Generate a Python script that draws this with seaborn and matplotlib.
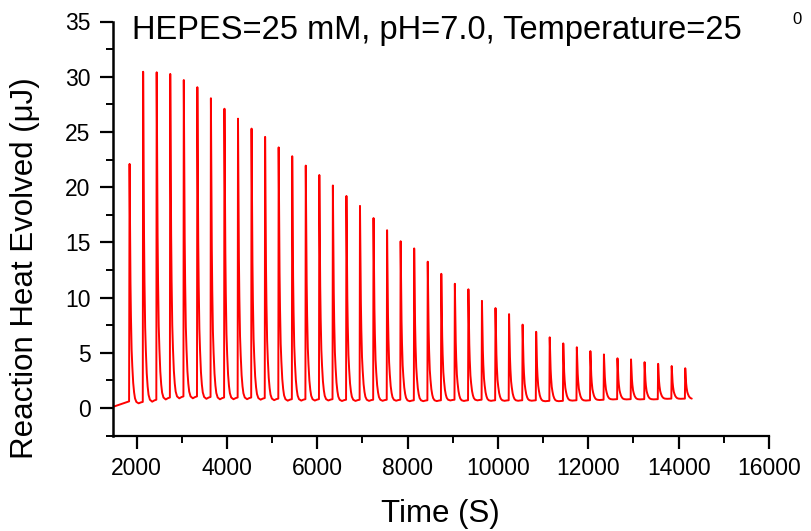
import numpy as np
import pandas as pd
import matplotlib
matplotlib.use("Agg")
import matplotlib.pyplot as plt
import seaborn as sns
from matplotlib.ticker import MultipleLocator

# ---- data ----
peak_times = [1840, 2140, 2440, 2740, 3040, 3340, 3640, 3940, 4240, 4540,
              4840, 5140, 5440, 5740, 6040, 6340, 6640, 6940, 7240, 7540,
              7840, 8140, 8440, 8740, 9040, 9340, 9640, 9940, 10240, 10540,
              10840, 11140, 11440, 11740, 12040, 12340, 12640, 12940, 13240, 13540,
              13840, 14140]
peak_heights = [22.1, 30.45, 30.4, 30.25, 29.7, 29.05, 28.05, 27.1, 26.2, 25.3,
                24.55, 23.6, 22.8, 21.95, 21.1, 20.15, 19.2, 18.3, 17.2, 16.1,
                15.1, 14.45, 13.25, 12.15, 11.25, 10.75, 9.7, 9.05, 8.5, 7.55,
                6.9, 6.4, 5.85, 5.5, 5.15, 4.85, 4.5, 4.4, 4.15, 4.0,
                3.8, 3.6]
baselines = [0.55, 0.75, 0.95, 1.05, 1.05, 1.0, 0.95, 0.95, 0.95, 0.9,
             0.85, 0.8, 0.8, 0.8, 0.8, 0.75, 0.75, 0.75, 0.75, 0.75,
             0.7, 0.7, 0.7, 0.75, 0.7, 0.75, 0.7, 0.7, 0.7, 0.7,
             0.65, 0.65, 0.7, 0.7, 0.75, 0.8, 0.8, 0.8, 0.8, 0.85,
             0.85, 0.85]
# pre-titration drift
start_times = [1490, 1835]
start_values = [0.12, 0.6]
# peak shape (seconds after peak, fraction of peak above baseline)
decay_offsets = [0, 10, 20, 30, 45, 60, 80, 100, 120, 150, 200, 250, 292]
decay_fracs = [1.0, 0.72, 0.5, 0.36, 0.22, 0.15, 0.08, 0.04, 0.015, 0.0, -0.006, -0.002, 0.0]
end_time = 14290

# ---- assemble trace ----
t_all = list(start_times)
y_all = list(start_values)
for i, (tp, hp, b) in enumerate(zip(peak_times, peak_heights, baselines)):
    for off, fr in zip(decay_offsets, decay_fracs):
        tt = tp + 6 + off
        if i == len(peak_times) - 1 and tt > end_time:
            break
        t_all.append(tt)
        y_all.append(b + (hp - b) * fr)
    if i == len(peak_times) - 1:
        t_all.append(end_time)
        y_all.append(b)
df = pd.DataFrame({"Time": t_all, "Heat": y_all})

# ---- figure ----
sns.set_style("ticks")
plt.rcParams["font.family"] = ["Liberation Sans", "DejaVu Sans"]
plt.rcParams["text.color"] = "black"
plt.rcParams["xtick.color"] = "black"
plt.rcParams["ytick.color"] = "black"
plt.rcParams["axes.edgecolor"] = "black"

W, H = 812, 531
fig = plt.figure(figsize=(W / 100, H / 100), dpi=100)
ax = fig.add_axes([113.5 / W, 1 - 435.6 / H, (769 - 113.5) / W, (435.6 - 21.5) / H])

sns.lineplot(data=df, x="Time", y="Heat", ax=ax, color="#ff0000", linewidth=1.4,
             estimator=None, sort=False)

ax.set_xlim(1490, 16000)
ax.set_ylim(-2.5, 35)
ax.xaxis.set_major_locator(MultipleLocator(2000))
ax.xaxis.set_minor_locator(MultipleLocator(1000))
ax.yaxis.set_major_locator(MultipleLocator(5))
ax.yaxis.set_minor_locator(MultipleLocator(2.5))

for s in ["top", "right"]:
    ax.spines[s].set_visible(False)
ax.spines["left"].set_linewidth(1.8)
ax.spines["bottom"].set_linewidth(1.6)
ax.spines["left"].set_color("black")
ax.spines["bottom"].set_color("black")
ax.tick_params(which="major", length=9.5, width=1.6, labelsize=16.5, pad=7,
               color="black", labelcolor="black")
ax.tick_params(which="minor", length=4.8, width=1.4, color="black")
ax.tick_params(axis="x", pad=6)

ax.set_xlabel("")
ax.set_ylabel("")
fig.text(440 / W, 1 - 514 / H, "Time (S)", fontsize=22.5, ha="center", va="center")
fig.text(25 / W, 1 - 268 / H, "Reaction Heat Evolved (\u03bcJ)", fontsize=22.5,
         rotation=90, ha="center", va="center")
fig.text(132 / W, 1 - 38.5 / H, "HEPES=25 mM, pH=7.0, Temperature=25", fontsize=23.5,
         ha="left", va="baseline")
fig.text(797 / W, 1 - 20 / H, "0", fontsize=12, ha="center", va="center")

fig.savefig("out.png", dpi=100)
